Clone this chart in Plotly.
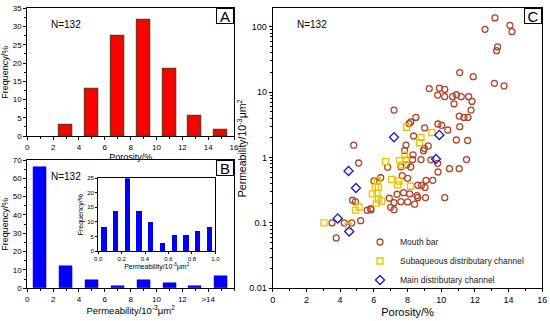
import plotly.graph_objects as go

# ---------------- data ----------------
# Panel A: porosity histogram
poro_bin_centers = [3, 5, 7, 9, 11, 13, 15]
poro_freq = [3.0, 12.9, 27.3, 31.8, 18.2, 5.3, 1.5]

# Panel B: permeability histogram
perm_bin_centers = [1, 3, 5, 7, 9, 11, 13, 15]
perm_freq = [66.0, 12.1, 4.5, 1.5, 4.5, 3.0, 1.5, 6.8]
perm_tick_vals = [0, 2, 4, 6, 8, 10, 12, 14]
perm_tick_text = ["0", "2", "4", "6", "8", "10", "12", ">14"]

# Inset: permeability 0-1 histogram
perm_fine_centers = [0.05, 0.15, 0.25, 0.35, 0.45, 0.55, 0.65, 0.75, 0.85, 0.95]
perm_fine_freq = [8.2, 13.8, 25.0, 13.8, 9.7, 2.8, 5.5, 5.5, 6.9, 8.2]

# Panel C: porosity vs permeability
mouth_bar_phi = [13.19, 12.60, 14.08, 14.20, 13.35, 13.29, 11.10, 11.90, 13.16, 13.73,
                 9.29, 9.89, 10.21, 9.79, 10.21, 10.68, 10.90, 11.19, 11.63, 11.83,
                 10.76, 7.20, 11.77, 11.07, 11.35, 11.59, 8.50, 8.19, 8.09, 9.81,
                 10.03, 9.02, 10.39, 11.10, 8.36, 10.90, 11.57, 7.91, 9.23, 9.00,
                 7.83, 8.95, 8.33, 8.80, 9.39, 9.79, 11.50, 6.82, 7.61, 7.95,
                 8.19, 10.49, 11.07, 9.81, 4.81, 5.10, 6.41, 6.01, 7.69, 8.01,
                 9.10, 9.50, 8.61, 8.83, 9.04, 7.38, 7.77, 8.56, 8.61, 9.07,
                 10.21, 6.92, 7.61, 8.01, 8.42, 7.20, 5.83, 7.00, 7.20, 4.74,
                 4.91, 5.61, 5.82, 8.30, 3.52, 4.25, 4.69, 5.22, 3.77, 8.13]
mouth_bar_k = [136, 91, 105, 84, 49, 43, 19.9, 17.2, 13.6, 12.4,
               11.3, 11.5, 11.0, 9.0, 8.5, 8.5, 9.1, 8.5, 8.5, 7.2,
               6.6, 5.3, 5.3, 4.3, 4.1, 4.1, 4.1, 3.5, 3.3, 3.25,
               3.1, 2.83, 2.63, 2.96, 2.13, 1.85, 1.82, 1.55, 1.50, 1.38,
               1.28, 1.27, 1.10, 0.93, 0.92, 0.815, 0.93, 0.71, 0.72, 0.77,
               0.716, 0.674, 0.674, 0.60, 1.54, 0.824, 0.49, 0.437, 0.527, 0.481,
               0.448, 0.448, 0.376, 0.374, 0.348, 0.274, 0.290, 0.261, 0.243, 0.244,
               0.243, 0.238, 0.211, 0.209, 0.193, 0.204, 0.159, 0.173, 0.159, 0.222,
               0.211, 0.156, 0.165, 0.925, 0.100, 0.100, 0.100, 0.108, 0.059, 0.277]

subaq_phi = [7.95, 9.45, 8.80, 8.71, 6.71, 7.54, 7.91, 7.66, 7.83, 6.21,
             7.06, 7.50, 7.41, 8.18, 5.92, 6.19, 6.27, 6.47, 6.15, 5.12,
             4.91, 3.04, 4.50, 6.09, 6.27]
subaq_k = [2.90, 2.41, 2.01, 1.68, 0.863, 0.894, 0.916, 0.768, 1.09, 0.445,
           0.464, 0.437, 0.380, 0.363, 0.277, 0.282, 0.232, 0.216, 0.201, 0.175,
           0.157, 0.100, 0.0897, 0.348, 0.348]

main_phi = [9.89, 7.20, 9.69, 4.50, 4.94, 3.86, 4.54]
main_k = [2.21, 2.04, 0.949, 0.622, 0.342, 0.117, 0.074]

# ---------------- figure ----------------
FONT = "Arial, Liberation Sans, sans-serif"
W, H = 550, 321

def px_x(p):
    return p / W

def px_y(p):
    return 1 - p / H

fig = go.Figure()

fig.add_trace(go.Bar(x=poro_bin_centers, y=poro_freq, width=1.0,
                     marker=dict(color="#FF0000", line=dict(color="#6B3A1B", width=1.5)),
                     xaxis="x", yaxis="y", showlegend=False))
fig.add_trace(go.Bar(x=perm_bin_centers, y=perm_freq, width=1.0,
                     marker=dict(color="#0000FF", line=dict(color="#0000CC", width=0.5)),
                     xaxis="x2", yaxis="y2", showlegend=False))
fig.add_trace(go.Bar(x=perm_fine_centers, y=perm_fine_freq, width=0.045,
                     marker=dict(color="#0000FF", line=dict(width=0)),
                     xaxis="x3", yaxis="y3", showlegend=False))

fig.add_trace(go.Scatter(x=mouth_bar_phi, y=mouth_bar_k, mode="markers", name="Mouth bar",
                         marker=dict(symbol="circle-open", size=6, color="#B0452A",
                                     line=dict(width=1.3)),
                         xaxis="x4", yaxis="y4"))
fig.add_trace(go.Scatter(x=subaq_phi, y=subaq_k, mode="markers",
                         name="Subaqueous distributary channel",
                         marker=dict(symbol="square-open", size=6, color="#E8C300",
                                     line=dict(width=1.3)),
                         xaxis="x4", yaxis="y4"))
fig.add_trace(go.Scatter(x=main_phi, y=main_k, mode="markers",
                         name="Main distributary channel",
                         marker=dict(symbol="diamond-open", size=7, color="#1A1ACC",
                                     line=dict(width=1.3)),
                         xaxis="x4", yaxis="y4"))

axis_common = dict(showline=True, linecolor="black", linewidth=1, mirror=True,
                   ticks="outside", ticklen=3, tickcolor="black", showgrid=False,
                   zeroline=False, automargin=False,
                   tickfont=dict(family=FONT, size=8, color="black"))

fig.update_layout(
    width=W, height=H, margin=dict(l=0, r=0, t=0, b=0),
    paper_bgcolor="white", plot_bgcolor="white", bargap=0,
    font=dict(family=FONT, color="black"),
    xaxis=dict(domain=[px_x(27.3), px_x(234)], range=[0, 16], tickvals=list(range(0, 17, 2)),
               minor=dict(ticks="outside", ticklen=2, dtick=1, tickcolor="black"),
               title=dict(text="Porosity/%", font=dict(size=9), standoff=0), anchor="y",
               **axis_common),
    yaxis=dict(domain=[px_y(136), px_y(8.3)], range=[0, 35], dtick=5,
               minor=dict(ticks="outside", ticklen=2, dtick=2.5, tickcolor="black"),
               title=dict(text="Frequency/%", font=dict(size=9), standoff=3), anchor="x",
               **axis_common),
    xaxis2=dict(domain=[px_x(27.3), px_x(234)], range=[0, 16], tickvals=perm_tick_vals,
                ticktext=perm_tick_text,
                minor=dict(ticks="outside", ticklen=2, dtick=1, tickcolor="black"),
                title=dict(text="Permeability/10<sup>-3</sup>μm<sup>2</sup>",
                           font=dict(size=9.5), standoff=0), anchor="y2",
                **axis_common),
    yaxis2=dict(domain=[px_y(288.3), px_y(160)], range=[0, 70], dtick=10,
                minor=dict(ticks="outside", ticklen=2, dtick=5, tickcolor="black"),
                title=dict(text="Frequency/%", font=dict(size=9), standoff=3), anchor="x2",
                **axis_common),
    xaxis3=dict(domain=[px_x(98.1), px_x(215.4)], range=[0, 1.0], dtick=0.2,
                tickformat=".1f",
                title=dict(text="Permeability/10<sup>-3</sup>μm<sup>2</sup>",
                           font=dict(size=7), standoff=0), anchor="y3",
                **{**axis_common, "ticklen": 2,
                   "tickfont": dict(family=FONT, size=6, color="black")}),
    yaxis3=dict(domain=[px_y(251), px_y(178.3)], range=[0, 25], dtick=5,
                title=dict(text="Frequency/%", font=dict(size=7), standoff=2), anchor="x3",
                **{**axis_common, "ticklen": 2,
                   "tickfont": dict(family=FONT, size=6, color="black")}),
    xaxis4=dict(domain=[px_x(272.7), px_x(542.3)], range=[0, 16], tickvals=list(range(0, 17, 2)),
                minor=dict(ticks="outside", ticklen=2, dtick=1, tickcolor="black"),
                title=dict(text="Porosity/%", font=dict(size=11), standoff=4), anchor="y4",
                **{**axis_common, "tickfont": dict(family=FONT, size=9, color="black")}),
    yaxis4=dict(domain=[px_y(288.3), px_y(8.3)], type="log", range=[-2, 2.281],
                tickvals=[0.01, 0.1, 1, 10, 100], ticktext=["0.01", "0.1", "1", "10", "100"],
                minor=dict(ticks="outside", ticklen=2, dtick="D1", tickcolor="black"),
                title=dict(text="Permeability/10<sup>-3</sup>μm<sup>2</sup>",
                           font=dict(size=10.5), standoff=0), anchor="x4",
                **{**axis_common, "tickfont": dict(family=FONT, size=9, color="black")}),
    legend=dict(x=px_x(360), y=px_y(261), xanchor="left", yanchor="middle",
                bgcolor="rgba(0,0,0,0)", borderwidth=0,
                font=dict(family=FONT, size=8.5, color="#222"),
                itemwidth=30, tracegroupgap=0),
)

# N labels
for xp, yp in [(49, 24.5), (49, 176.5), (295, 24.3)]:
    fig.add_annotation(x=px_x(xp), y=px_y(yp), xref="paper", yref="paper",
                       xanchor="left", yanchor="middle", showarrow=False,
                       text="N=132", font=dict(family=FONT, size=10, color="black"))

# Panel letters
for letter, xr, yt in [("A", 234, 8.3), ("B", 234, 160), ("C", 542.3, 8.3)]:
    fig.add_annotation(x=px_x(xr), y=px_y(yt), xref="paper", yref="paper",
                       xanchor="right", yanchor="top", showarrow=False,
                       text=letter, font=dict(family=FONT, size=15, color="black"),
                       bordercolor="black", borderwidth=1, borderpad=0,
                       bgcolor="white", width=16, height=14)

fig.write_html("out.html", config={"displayModeBar": False},
               post_script="document.body.style.margin='0';document.body.style.padding='0';")
